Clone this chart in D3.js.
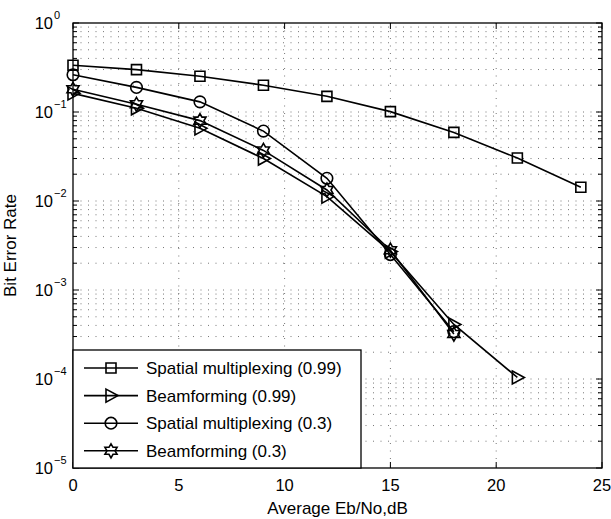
<!DOCTYPE html>
<html>
<head>
<meta charset="utf-8">
<script src="https://cdn.jsdelivr.net/npm/d3@7"></script>
<style>
body { margin: 0; background: #fff; }
svg { display: block; }
text { font-family: "Liberation Sans", Arial, Helvetica, sans-serif; fill: #000; }
</style>
</head>
<body>
<svg id="chart" width="611" height="519"></svg>
<script>
// ---- data ----
const xTicks = [0, 5, 10, 15, 20, 25];
const yTickExps = [0, -1, -2, -3, -4, -5];
const xLabel = "Average Eb/No,dB";
const yLabel = "Bit Error Rate";

const smX99 = [0, 3, 6, 9, 12, 15, 18, 21, 24];
const smY99 = [0.335, 0.299, 0.252, 0.20, 0.150, 0.101, 0.059, 0.0304, 0.0143];

const bfX99 = [0, 3, 6, 9, 12, 15, 18, 21];
const bfY99 = [0.162, 0.110, 0.0655, 0.030, 0.0112, 0.0027, 0.00041, 0.000104];

const smX03 = [0, 3, 6, 9, 12, 15, 18];
const smY03 = [0.262, 0.189, 0.130, 0.061, 0.018, 0.0025, 0.00034];

const bfX03 = [0, 3, 6, 9, 12, 15, 18];
const bfY03 = [0.18, 0.122, 0.080, 0.037, 0.0133, 0.0028, 0.00032];

const seriesNames = ["Spatial multiplexing (0.99)", "Beamforming (0.99)", "Spatial multiplexing (0.3)", "Beamforming (0.3)"];
const seriesMarkers = ["square", "triangle", "circle", "hexagram"];

// ---- layout ----
const margin = { left: 73, top: 23, right: 9, bottom: 51 };
const W = 611, H = 519;
const iw = W - margin.left - margin.right;
const ih = H - margin.top - margin.bottom;

const svg = d3.select("#chart");
const g = svg.append("g").attr("transform", `translate(${margin.left},${margin.top})`);

const x = d3.scaleLinear().domain([0, 25]).range([0, iw]);
const y = d3.scaleLog().domain([1e-5, 1]).range([ih, 0]);

// grid
const minorVals = [];
for (let e = -5; e < 0; e++) for (let k = 1; k <= 9; k++) minorVals.push(k * Math.pow(10, e));
const gridG = g.append("g");
gridG.selectAll("line.h").data(minorVals.filter(v => v > 1e-5 && v < 1)).join("line")
  .attr("x1", 0).attr("x2", iw)
  .attr("y1", d => y(d)).attr("y2", d => y(d))
  .attr("stroke", "#777").attr("stroke-width", 1).attr("stroke-dasharray", "1,6.5");
gridG.selectAll("line.v").data(xTicks.filter(v => v > 0 && v < 25)).join("line")
  .attr("x1", d => x(d)).attr("x2", d => x(d))
  .attr("y1", 0).attr("y2", ih)
  .attr("stroke", "#777").attr("stroke-width", 1).attr("stroke-dasharray", "1,6.5");

// axes ticks (inner)
const tickG = g.append("g").attr("stroke", "#000").attr("stroke-width", 1);
xTicks.forEach(v => {
  tickG.append("line").attr("x1", x(v)).attr("x2", x(v)).attr("y1", ih).attr("y2", ih - 6);
  tickG.append("line").attr("x1", x(v)).attr("x2", x(v)).attr("y1", 0).attr("y2", 6);
});
minorVals.concat([1]).forEach(v => {
  const isMajor = Math.abs(Math.log10(v) - Math.round(Math.log10(v))) < 1e-9;
  const len = isMajor ? 6 : 4;
  tickG.append("line").attr("x1", 0).attr("x2", len).attr("y1", y(v)).attr("y2", y(v));
  tickG.append("line").attr("x1", iw).attr("x2", iw - len).attr("y1", y(v)).attr("y2", y(v));
});

// box
g.append("rect").attr("x", 0).attr("y", 0).attr("width", iw).attr("height", ih)
  .attr("fill", "none").attr("stroke", "#000").attr("stroke-width", 1.3);

// tick labels
xTicks.forEach(v => {
  g.append("text").attr("x", x(v)).attr("y", ih + 23).attr("text-anchor", "middle")
    .style("font-size", "16.5px").text(v);
});
yTickExps.forEach(e => {
  const t = g.append("text").attr("x", -20).attr("y", y(Math.pow(10, e)) + 6)
    .attr("text-anchor", "end").style("font-size", "16.5px");
  t.append("tspan").text("10");
  const s = e === 0 ? "0" : "\u2212" + Math.abs(e);
  g.append("text").attr("x", -19).attr("y", y(Math.pow(10, e)) - 4)
    .attr("text-anchor", "start").style("font-size", "11px").text(s);
});

// axis titles
g.append("text").attr("x", iw / 2).attr("y", ih + 46).attr("text-anchor", "middle")
  .style("font-size", "17px").text(xLabel);
g.append("text").attr("transform", `translate(${-57},${ih / 2}) rotate(-90)`)
  .attr("text-anchor", "middle").style("font-size", "17px").text(yLabel);

// markers
function markerPath(type) {
  if (type === "square") return "M-5,-5H5V5H-5Z";
  if (type === "circle") return d3.symbol(d3.symbolCircle, 105)();
  if (type === "triangle") return "M-5,-6.5L7,0L-5,6.5Z";
  if (type === "hexagram") {
    const r = 7, ri = r / Math.sqrt(3);
    let p = "";
    for (let i = 0; i < 12; i++) {
      const a = -Math.PI / 2 + i * Math.PI / 6;
      const rr = i % 2 === 0 ? r : ri;
      p += (i === 0 ? "M" : "L") + (rr * Math.cos(a)).toFixed(2) + "," + (rr * Math.sin(a)).toFixed(2);
    }
    return p + "Z";
  }
}

const allSeries = [
  { xs: smX99, ys: smY99 },
  { xs: bfX99, ys: bfY99 },
  { xs: smX03, ys: smY03 },
  { xs: bfX03, ys: bfY03 }
];
const line = d3.line().x(d => x(d[0])).y(d => y(d[1]));
const plotG = g.append("g");
allSeries.forEach((s, i) => {
  const pts = s.xs.map((v, j) => [v, s.ys[j]]);
  plotG.append("path").attr("d", line(pts)).attr("fill", "none")
    .attr("stroke", "#000").attr("stroke-width", 1.6);
  plotG.selectAll(null).data(pts).join("path")
    .attr("transform", d => `translate(${x(d[0])},${y(d[1])})`)
    .attr("d", markerPath(seriesMarkers[i]))
    .attr("fill", "none").attr("stroke", "#000").attr("stroke-width", 1.6);
});

// legend
const lg = g.append("g");
const lgX = 0, lgY = 327, lgW = 288, lgH = ih - 327;
lg.append("rect").attr("x", lgX).attr("y", lgY).attr("width", lgW).attr("height", lgH)
  .attr("fill", "#fff").attr("stroke", "#000").attr("stroke-width", 1.3);
seriesNames.forEach((name, i) => {
  const cy = lgY + 18 + i * 27.6;
  lg.append("line").attr("x1", 11).attr("x2", 65).attr("y1", cy).attr("y2", cy)
    .attr("stroke", "#000").attr("stroke-width", 1.6);
  lg.append("path").attr("transform", `translate(38,${cy})`).attr("d", markerPath(seriesMarkers[i]))
    .attr("fill", "none").attr("stroke", "#000").attr("stroke-width", 1.6);
  lg.append("text").attr("x", 73).attr("y", cy + 6).style("font-size", "17px").text(name);
});
</script>
</body>
</html>
